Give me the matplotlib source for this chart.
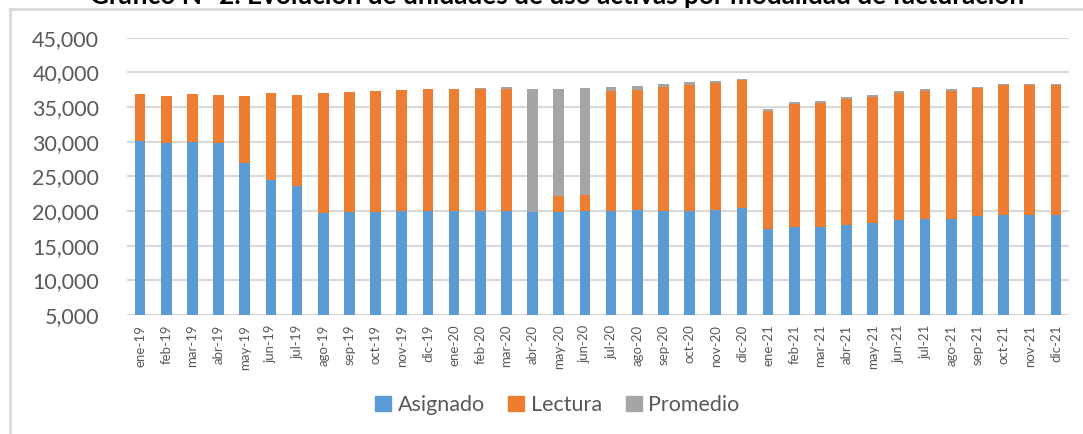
import matplotlib

matplotlib.use("Agg")
import matplotlib.pyplot as plt
import numpy as np
from matplotlib.lines import Line2D
from matplotlib.patches import Patch
from matplotlib.ticker import FuncFormatter

plt.rcParams["font.family"] = ["Lato", "DejaVu Sans"]

# ---------- data ----------
meses = [
    "ene-19", "feb-19", "mar-19", "abr-19", "may-19", "jun-19",
    "jul-19", "ago-19", "sep-19", "oct-19", "nov-19", "dic-19",
    "ene-20", "feb-20", "mar-20", "abr-20", "may-20", "jun-20",
    "jul-20", "ago-20", "sep-20", "oct-20", "nov-20", "dic-20",
    "ene-21", "feb-21", "mar-21", "abr-21", "may-21", "jun-21",
    "jul-21", "ago-21", "sep-21", "oct-21", "nov-21", "dic-21",
]
asignado = [
    30050, 29760, 29950, 29760, 26920, 24520, 23560, 19710, 19810, 19900, 19950, 19950,
    19950, 19950, 19950, 19900, 19900, 19950, 20050, 20100, 19950, 19950, 20190, 20390,
    17400, 17740, 17640, 17980, 18270, 18700, 18890, 18890, 19230, 19420, 19380, 19420,
]
lectura = [
    6870, 6880, 6930, 7020, 9620, 12500, 13170, 17360, 17350, 17360, 17500, 17600,
    17650, 17650, 17690, 0, 2220, 2410, 17310, 17400, 17940, 18180, 18270, 18550,
    17070, 17740, 17990, 18220, 18220, 18370, 18470, 18470, 18510, 18710, 18750, 18750,
]
promedio = [
    0, 0, 0, 0, 0, 0, 0, 0, 0, 0, 0, 0,
    0, 140, 250, 17700, 15520, 15330, 530, 530, 430, 430, 340, 150,
    290, 190, 190, 190, 290, 190, 240, 240, 190, 190, 190, 150,
]
y_ticks = [5000, 10000, 15000, 20000, 25000, 30000, 35000, 40000, 45000]

c_asig, c_lect, c_prom = "#5B9BD5", "#ED7D31", "#A5A5A5"
grid_c = "#D9D9D9"
txt_c = "#595959"

fig = plt.figure(figsize=(10.83, 4.34), dpi=100)
# plot area: x 127..1069 px, y 37.6..315 px
ax = fig.add_axes([127 / 1083, 1 - 315 / 434, 942 / 1083, (315 - 37.6) / 434])

x = np.arange(len(meses))
a = np.array(asignado)
l = np.array(lectura)
p = np.array(promedio)
w = 0.41
ax.bar(x, a, w, color=c_asig, zorder=3)
ax.bar(x, l, w, bottom=a, color=c_lect, zorder=3)
ax.bar(x, p, w, bottom=a + l, color=c_prom, zorder=3)

ax.set_xlim(-0.5, len(meses) - 0.5)
ax.set_ylim(5000, 45000)
ax.set_yticks(y_ticks)
ax.yaxis.set_major_formatter(FuncFormatter(lambda v, _: f"{int(v):,}"))
ax.set_xticks(x)
ax.set_xticklabels(meses, rotation=90, fontsize=9.5, color=txt_c)
ax.tick_params(axis="y", length=0, pad=20, labelsize=15.5, labelcolor=txt_c)
ax.tick_params(axis="x", length=0, pad=7)
ax.grid(axis="y", color=grid_c, lw=1.5, zorder=0)
for s in ax.spines.values():
    s.set_visible(False)

# legend
handles = [
    Patch(color=c_asig, label="Asignado"),
    Patch(color=c_lect, label="Lectura"),
    Patch(color=c_prom, label="Promedio"),
]
leg = fig.legend(handles=handles, loc="center", bbox_to_anchor=(0.5145, 1 - 405 / 434),
                 ncol=3, frameon=False, fontsize=15.5, handlelength=0.75, handleheight=0.75,
                 handletextpad=0.3, columnspacing=1.1)
for t in leg.get_texts():
    t.set_color(txt_c)

# chart-area border (top and left only visible)
fig.add_artist(Line2D([10 / 1083, 1], [1 - 9 / 434, 1 - 9 / 434], color=grid_c, lw=2,
                      transform=fig.transFigure))
fig.add_artist(Line2D([10 / 1083, 10 / 1083], [0, 1 - 9 / 434], color=grid_c, lw=2,
                      transform=fig.transFigure))

# title, clipped by the top of the image
fig.text(557 / 1083, 1 - 4 / 434,
         "Gráfico N° 2. Evolución de unidades de uso activas por modalidad de facturación",
         ha="center", va="baseline", fontsize=18.8, fontweight="bold", color="black")

fig.savefig("out.png", dpi=100, facecolor="white")
plt.close()
